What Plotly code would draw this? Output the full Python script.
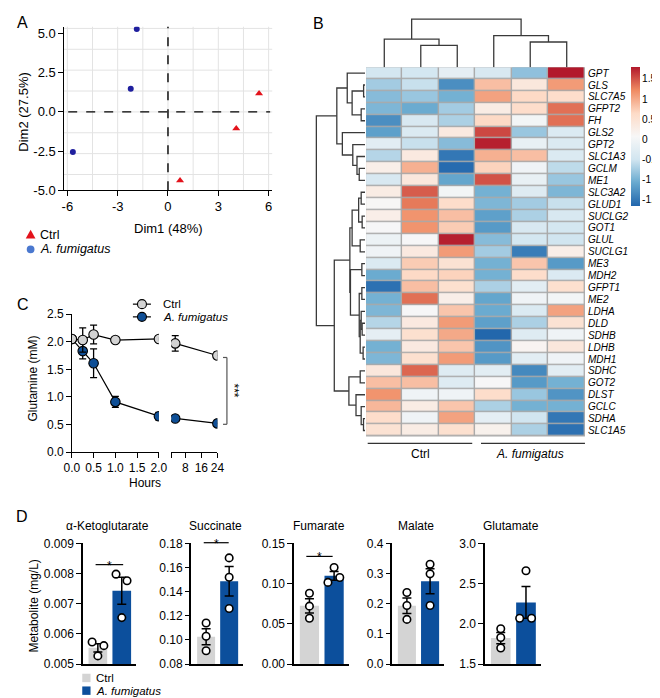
import numpy as np
import plotly.graph_objects as go

W, H = 660, 698
FONT = "Liberation Sans, Arial, Helvetica, sans-serif"

# ---------------- Panel A: PCA ----------------
pca_ctrl_dim1 = [5.43, 4.07, 0.72]
pca_ctrl_dim2 = [1.17, -1.06, -4.39]
pca_af_dim1 = [-1.86, -2.22, -5.67]
pca_af_dim2 = [5.30, 1.48, -2.56]
pca_xticks = [-6, -3, 0, 3, 6]
pca_yticks = [-5.0, -2.5, 0.0, 2.5, 5.0]

# ---------------- Panel B: heatmap ----------------
genes = ["GPT", "GLS", "SLC7A5", "GFPT2", "FH", "GLS2", "GPT2", "SLC1A3", "GCLM", "ME1",
         "SLC3A2", "GLUD1", "SUCLG2", "GOT1", "GLUL", "SUCLG1", "ME3", "MDH2", "GFPT1", "ME2",
         "LDHA", "DLD", "SDHB", "LDHB", "MDH1", "SDHC", "GOT2", "DLST", "GCLC", "SDHA", "SLC1A5"]
ctrl_1 = [-0.45, -0.75, -0.9, -0.95, -1.3, -1.15, -0.25, -0.65, 0.25, -0.4,
          0.3, 0.1, 0.25, 0.05, -0.1, -0.05, -0.35, -1.05, -1.55, -1.0,
          -0.95, -0.65, -0.2, -1.0, -0.95, 0.4, 0.85, 1.15, 0.9, 0.6, 0.5]
ctrl_2 = [-0.45, -0.55, -0.8, -1.05, -0.4, -0.35, -0.55, 0.35, 0.95, 0.4,
          1.45, 1.3, 1.15, 1.15, 0.05, 0.35, 0.75, 0.65, 0.85, 1.35,
          0.05, 0.35, 0.55, 0.35, 0.55, 1.4, 0.85, -0.05, 0.3, -0.05, 0.3]
ctrl_3 = [-0.2, -1.3, -1.0, -0.75, -0.7, 0.35, -0.9, -1.5, -1.6, -1.1,
          0.0, 0.6, 0.85, 0.75, 1.75, 1.1, 0.5, 0.7, 0.55, 0.25,
          0.8, 1.1, 1.0, 0.8, 1.1, -0.3, -0.3, -0.05, 0.8, 1.05, 0.55]
af_1 = [-0.4, 0.85, 1.05, 0.3, 0.65, 1.55, 1.75, 0.95, 0.7, 1.5,
        -1.0, -0.95, -1.15, -1.2, -0.9, -0.75, -1.0, -1.0, -0.7, -1.1,
        -1.05, -1.15, -1.64, -1.25, -1.2, -0.25, 0.05, 0.6, -0.7, -0.2, 0.2]
af_2 = [-0.85, 0.4, 0.65, 0.6, 0.0, -0.8, -0.15, 0.85, -0.05, -0.15,
        -0.3, -0.75, -0.7, -0.4, -0.45, -1.45, 0.8, 0.6, -0.25, -0.05,
        -0.35, -0.7, -0.3, 0.15, -0.25, -1.35, -1.2, -0.8, -1.0, -0.5, -0.7]
af_3 = [1.79, 1.1, 0.6, 1.35, 1.35, -0.35, -0.35, -0.35, -0.6, -0.8,
        -0.95, -0.55, -0.4, -0.45, -0.5, 0.25, -1.2, -0.35, 0.55, 0.0,
        1.05, 0.5, -0.05, 0.4, -0.05, -0.25, -1.0, -1.25, -1.0, -1.5, -1.55]
group_labels = ["Ctrl", "A. fumigatus"]
# hierarchical clustering trees: (left, right, merge height); ints are leaf indices
col_tree = ((0, (1, 2, 22.3), 28.7), (3, (4, 5, 25.7), 32.3), 49.0)
row_cluster_1 = ((0, ((1, 2, 1.5), (3, 4, 4.0), 13.3), 18.3),
                 (5, (6, (7, (8, 9, 6.0), 8.3), 12.6), 23.3), 29.0)
row_cluster_2 = (((((10, 11, 4.0), (12, 13, 3.0), 6.6), (14, 15, 5.0), 13.3),
                  ((16, 17, 3.3), ((18, 19, 3.3), ((20, (21, 22, 3.0), 4.0), (23, 24, 2.0), 5.0), 6.0), 15.0),
                  15.6),
                 ((25, 26, 5.0), (27, (28, (29, 30, 1.6), 4.0), 9.3), 16.6), 31.6)
row_tree = (row_cluster_1, row_cluster_2, 50.0)
cbar_ticks = [-1.5, -1, -0.5, 0, 0.5, 1, 1.5]
ZMIN, ZMAX = -1.645, 1.79

# ---------------- Panel C: glutamine ----------------
hours_early = [0, 0.25, 0.5, 1, 2]
hours_late = [3, 24]
gln_ctrl_early = [2.05, 2.03, 2.13, 2.03, 2.05]
gln_ctrl_early_sem = [0.0, 0.22, 0.17, 0.02, 0.02]
gln_ctrl_late = [1.97, 1.75]
gln_ctrl_late_sem = [0.14, 0.07]
gln_af_early = [2.05, 1.83, 1.61, 0.91, 0.65]
gln_af_early_sem = [0.0, 0.14, 0.26, 0.10, 0.07]
gln_af_late = [0.61, 0.52]
gln_af_late_sem = [0.03, 0.06]

# ---------------- Panel D: metabolites ----------------
metabolites = ["α-Ketoglutarate", "Succinate", "Fumarate", "Malate", "Glutamate"]
akg_ctrl = [0.00573, 0.00561, 0.00527]
akg_af = [0.00798, 0.00776, 0.00654]
succ_ctrl = [0.114, 0.103, 0.091]
succ_af = [0.168, 0.152, 0.126]
fum_ctrl = [0.088, 0.072, 0.057]
fum_af = [0.1015, 0.120, 0.1076]
mal_ctrl = [0.237, 0.194, 0.148]
mal_af = [0.331, 0.299, 0.194]
glu_ctrl = [1.939, 1.83, 1.70]
glu_af = [2.66, 2.07, 2.07]
d_yticks = [[0.005, 0.006, 0.007, 0.008, 0.009],
            [0.08, 0.10, 0.12, 0.14, 0.16, 0.18],
            [0.00, 0.05, 0.10, 0.15],
            [0.0, 0.1, 0.2, 0.3, 0.4],
            [1.5, 2.0, 2.5, 3.0]]
d_ticktext = [["0.005", "0.006", "0.007", "0.008", "0.009"],
              ["0.08", "0.10", "0.12", "0.14", "0.16", "0.18"],
              ["0.00", "0.05", "0.10", "0.15"],
              ["0.0", "0.1", "0.2", "0.3", "0.4"],
              ["1.5", "2.0", "2.5", "3.0"]]
d_ranges = [[0.005, 0.009], [0.08, 0.18], [0.0, 0.15], [0.0, 0.4], [1.5, 3.0]]

# ---------------- styling / layout constants ----------------
BLUE_BAR = "#0c4f9c"
GRAY_BAR = "#d4d4d4"
C_GRAY = "#d3d3d3"
C_BLUE = "#0f4f96"
HEAT_COLORS = ["#2166ac", "#67a9cf", "#d1e5f0", "#f7f7f7", "#fddbc7", "#ef8a62", "#b2182b"]
# horizontal jitter of points (x units) per metabolite, ctrl / af
jit_ctrl = [[-0.24, 0.25, 0.0], [0, 0, 0], [0, 0, 0], [0, 0, 0], [0, 0, 0]]
jit_af = [[-0.24, 0.22, 0.0], [0, 0, 0], [-0.25, 0.0, 0.23], [0, 0, 0], [0.0, -0.25, 0.22]]
d_xdomains = [(68.3, 123.3), (180, 233), (285, 341.7), (386, 439.3), (481, 539)]
CB_TOP, CB_BOT = 53.3, 195.0   # colorbar extent in px


def dx(a, b):
    return [a / W, b / W]


def dy(top, bottom):
    return [1 - bottom / H, 1 - top / H]


def ann(text, x, y, size=12, xa="center", ya="middle", angle=0, italic=False, pad=1):
    if italic:
        text = "<i>" + text + "</i>"
    return dict(text=text, x=x / W, y=1 - y / H, xref="paper", yref="paper",
                xanchor=xa, yanchor=ya, showarrow=False, textangle=angle, borderpad=pad,
                font=dict(size=size, color="black", family=FONT))


def pline(x0, y0, x1, y1, width=1.2, color="black", dash=None):
    ln = dict(color=color, width=width)
    if dash:
        ln["dash"] = dash
    return dict(type="line", xref="paper", yref="paper", x0=x0 / W, y0=1 - y0 / H,
                x1=x1 / W, y1=1 - y1 / H, line=ln)


def dendro(node):
    if isinstance(node, int):
        return float(node), 0.0, []
    l, r, h = node
    pl, hl, sl = dendro(l)
    pr, hr, sr = dendro(r)
    seg = [(pl, hl), (pl, h), (pr, h), (pr, hr)]
    return (pl + pr) / 2, h, sl + sr + [seg]


def seg_xy(segs):
    pos, hh = [], []
    for s in segs:
        for p, h in s:
            pos.append(p)
            hh.append(h)
        pos.append(None)
        hh.append(None)
    return pos, hh


fig = go.Figure()
shapes, annotations = [], []

# ===== Panel A =====
fig.add_trace(go.Scatter(x=pca_af_dim1, y=pca_af_dim2, mode="markers", xaxis="x", yaxis="y",
                         marker=dict(color="#1f1f9e", size=6), showlegend=False))
fig.add_trace(go.Scatter(x=pca_ctrl_dim1, y=pca_ctrl_dim2, mode="markers", xaxis="x", yaxis="y",
                         marker=dict(color="#e3121b", size=7, symbol="triangle-up"), showlegend=False))
for gx in np.arange(-6, 6.01, 1.5):
    shapes.append(dict(type="line", xref="x", yref="y domain", x0=gx, x1=gx, y0=0, y1=1,
                       line=dict(color="#e3e3e3", width=1), layer="below"))
for gy in np.arange(-4, 5.4, 4 / 3):
    shapes.append(dict(type="line", xref="x domain", yref="y", x0=0, x1=1, y0=gy, y1=gy,
                       line=dict(color="#e3e3e3", width=1), layer="below"))
shapes.append(dict(type="line", xref="x", yref="y domain", x0=0, x1=0, y0=0, y1=1,
                   line=dict(color="black", width=1.4, dash="dash")))
shapes.append(dict(type="line", xref="x domain", yref="y", x0=0.02, x1=0.99, y0=0, y1=0,
                   line=dict(color="black", width=1.4, dash="dash")))

# ===== Panel B =====
z = np.column_stack([ctrl_1, ctrl_2, ctrl_3, af_1, af_2, af_3])
cs = [[i / 6, c] for i, c in enumerate(HEAT_COLORS)]
fig.add_trace(go.Heatmap(
    z=z, x=list(range(6)), y=list(range(len(genes))), xaxis="x2", yaxis="y2",
    colorscale=cs, zmin=ZMIN, zmax=ZMAX, xgap=1.4, ygap=1.4,
    colorbar=dict(x=631.5 / W, xanchor="left", y=1 - CB_TOP / H, yanchor="top",
                  len=(CB_BOT - CB_TOP) / H, lenmode="fraction", thickness=8.5, thicknessmode="pixels",
                  outlinewidth=0, showticklabels=False, ticks="", xpad=0, ypad=0),
))
# colorbar labels (placed against the colour scale)
for t in cbar_ticks:
    ypx = CB_TOP + (ZMAX - t) / (ZMAX - ZMIN) * (CB_BOT - CB_TOP)
    annotations.append(ann("%g" % t, 641.3, ypx, size=10.2, xa="left", pad=0))
shapes.append(dict(type="rect", xref="x2 domain", yref="y2 domain", x0=0, x1=1, y0=0, y1=1,
                   fillcolor="#a9a9a9", line=dict(width=0), layer="below"))
_, _, csegs = dendro(col_tree)
cpos, ch = seg_xy(csegs)
fig.add_trace(go.Scatter(x=cpos, y=ch, mode="lines", xaxis="x3", yaxis="y3",
                         line=dict(color="#3a3a3a", width=1.3), showlegend=False, hoverinfo="skip"))
_, _, rsegs = dendro(row_tree)
rpos, rh = seg_xy(rsegs)
fig.add_trace(go.Scatter(x=rh, y=rpos, mode="lines", xaxis="x4", yaxis="y4",
                         line=dict(color="#3a3a3a", width=1.3), showlegend=False, hoverinfo="skip"))
shapes.append(pline(361, 437.7, 468.3, 437.7, width=1.2, color="#333"))
shapes.append(pline(477.3, 437.7, 584, 437.7, width=1.2, color="#333"))
annotations.append(ann(group_labels[0], 415, 448.5, size=12))
annotations.append(ann(group_labels[1], 528, 448.5, size=12, italic=True))

# ===== Panel C =====
def cser(x, y, e, xa, color, name):
    return go.Scatter(x=x, y=y, mode="lines+markers", xaxis=xa, yaxis="y5", name=name,
                      line=dict(color="black", width=1.2),
                      marker=dict(size=9.5, color=color, line=dict(color="black", width=1.1)),
                      error_y=dict(type="data", array=e, color="black", thickness=1.3, width=3.5),
                      showlegend=False)

fig.add_trace(cser(hours_early, gln_af_early, gln_af_early_sem, "x5", C_BLUE, "A. fumigatus"))
fig.add_trace(cser(hours_late, gln_af_late, gln_af_late_sem, "x6", C_BLUE, "A. fumigatus"))
fig.add_trace(cser(hours_early, gln_ctrl_early, gln_ctrl_early_sem, "x5", C_GRAY, "Ctrl"))
fig.add_trace(cser(hours_late, gln_ctrl_late, gln_ctrl_late_sem, "x6", C_GRAY, "Ctrl"))
# significance bracket
shapes.append(pline(216.5, 350, 216.5, 418.3, width=1.2, color="#555"))
shapes.append(pline(212.5, 350, 216.5, 350, width=1.2, color="#555"))
shapes.append(pline(212.5, 418.3, 216.5, 418.3, width=1.2, color="#555"))
annotations.append(ann("***", 224, 384, size=12, angle=90))
# legend C
for yy, col, txt, it in [(295.5, C_GRAY, "Ctrl", False), (308.5, C_BLUE, "A. fumigatus", True)]:
    shapes.append(pline(120, yy, 138.5, yy, width=1.2))
    shapes.append(dict(type="circle", xref="paper", yref="paper", x0=(129.3 - 4.6) / W, x1=(129.3 + 4.6) / W,
                       y0=1 - (yy + 4.6) / H, y1=1 - (yy - 4.6) / H, fillcolor=col,
                       line=dict(color="black", width=1.1)))
    annotations.append(ann(txt, 149, yy, size=11.5, xa="left", italic=it))
annotations.append(ann("Hours", 132, 478.5, size=12))
annotations.append(ann("Glutamine (mM)", 17, 372, size=12, angle=-90))

# ===== Panel D =====
d_ctrl = [akg_ctrl, succ_ctrl, fum_ctrl, mal_ctrl, glu_ctrl]
d_af = [akg_af, succ_af, fum_af, mal_af, glu_af]
for i in range(5):
    xa, ya = "x%d" % (7 + i), "y%d" % (7 + i)
    means = [np.mean(d_ctrl[i]), np.mean(d_af[i])]
    sems = [np.std(d_ctrl[i], ddof=1) / np.sqrt(3), np.std(d_af[i], ddof=1) / np.sqrt(3)]
    base = d_ranges[i][0]
    fig.add_trace(go.Bar(x=[0, 1], y=[m - base for m in means], base=base, xaxis=xa, yaxis=ya,
                         width=0.78, marker=dict(color=[GRAY_BAR, BLUE_BAR], line=dict(width=0)),
                         error_y=dict(type="data", array=sems, color="black", thickness=1.5, width=4.5),
                         showlegend=False))
    xs = [0 + j for j in jit_ctrl[i]] + [1 + j for j in jit_af[i]]
    ys = list(d_ctrl[i]) + list(d_af[i])
    fig.add_trace(go.Scatter(x=xs, y=ys, mode="markers", xaxis=xa, yaxis=ya, cliponaxis=False,
                             marker=dict(size=7.5, color="white", line=dict(color="black", width=1.6)),
                             showlegend=False))
    x0, x1 = d_xdomains[i]
    annotations.append(ann(metabolites[i], (x0 + x1) / 2 - 2, 522.7, size=12))

# significance marks D
for (xa0, xa1, yl) in [(81.7, 110, 561.7), (192.7, 218.3, 539.3), (298, 325, 553.3)]:
    shapes.append(pline(xa0, yl, xa1, yl, width=1.2))
    annotations.append(ann("*", (xa0 + xa1) / 2, yl + 1, size=12))
annotations.append(ann("Metabolite (mg/L)", 18, 604, size=12, angle=-90))
# legend D
for yy, col, txt, it in [(677.5, GRAY_BAR, "Ctrl", False), (690.5, BLUE_BAR, "A. fumigatus", True)]:
    shapes.append(dict(type="rect", xref="paper", yref="paper", x0=68 / W, x1=76.5 / W,
                       y0=1 - (yy + 4.3) / H, y1=1 - (yy - 4.3) / H, fillcolor=col, line=dict(width=0)))
    annotations.append(ann(txt, 80.5, yy, size=11.5, xa="left", italic=it))

# ===== Panel A text =====
annotations.append(ann("Dim1 (48%)", 156.5, 218.5, size=13))
annotations.append(ann("Dim2 (27.5%)", 8, 99, size=13, angle=-90))
# legend A
tri = "M {},{} L {},{} L {},{} Z".format(10 / W, 1 - 228.5 / H, 20 / W, 1 - 228.5 / H, 15 / W, 1 - 219.5 / H)
shapes.append(dict(type="path", xref="paper", yref="paper", path=tri, fillcolor="#e3121b", line=dict(width=0)))
shapes.append(dict(type="circle", xref="paper", yref="paper", x0=11 / W, x1=19 / W,
                   y0=1 - 243.5 / H, y1=1 - 235.5 / H, fillcolor="#4a78cf", line=dict(width=0)))
annotations.append(ann("Ctrl", 23, 224.5, size=12.5, xa="left"))
annotations.append(ann("A. fumigatus", 23, 239.5, size=12.5, xa="left", italic=True))

# panel letters
for t, x, y in [("A", 7, 8), ("B", 310, 9), ("C", 7, 296), ("D", 6, 513)]:
    annotations.append(ann(t, x, y, size=16))

# ===== axes =====
AX = dict(showline=True, linecolor="black", linewidth=1.4, ticks="outside", ticklen=4.5,
          tickwidth=1.4, tickcolor="black", zeroline=False, showgrid=False,
          tickfont=dict(size=12, family=FONT, color="black"))
layout = dict(
    width=W, height=H, margin=dict(l=0, r=0, t=0, b=0),
    paper_bgcolor="white", plot_bgcolor="white", showlegend=False,
    font=dict(family=FONT, color="black"),
    shapes=shapes, annotations=annotations,
)
layout["xaxis"] = dict(AX, domain=dx(49.3, 263), range=[-6.197, 6.215], anchor="y",
                       tickvals=pca_xticks, ticktext=[str(v) for v in pca_xticks],
                       tickfont=dict(size=13, family=FONT, color="black"))
layout["yaxis"] = dict(AX, domain=dy(12, 179), range=[-5.0, 5.44], anchor="x",
                       tickvals=pca_yticks, ticktext=["%.1f" % v for v in pca_yticks],
                       tickfont=dict(size=13, family=FONT, color="black"))
layout["xaxis2"] = dict(domain=dx(359.3, 584), range=[-0.5, 5.5], anchor="y2", showticklabels=False,
                        showgrid=False, zeroline=False, showline=False, ticks="")
layout["yaxis2"] = dict(domain=dy(53.3, 430.7), range=[30.5, -0.5], anchor="x2", side="right",
                        tickvals=list(range(len(genes))), ticktext=genes, ticks="",
                        showgrid=False, zeroline=False, showline=False, ticklabelstandoff=2,
                        tickfont=dict(size=10, family=FONT, color="black", style="italic"))
layout["xaxis3"] = dict(domain=dx(359.3, 584), range=[-0.5, 5.5], anchor="y3", visible=False)
layout["yaxis3"] = dict(domain=dy(1, 53.3), range=[0, 52.3], anchor="x3", visible=False)
layout["xaxis4"] = dict(domain=dx(306, 358.3), range=[52.3, 0], anchor="y4", visible=False)
layout["yaxis4"] = dict(domain=dy(53.3, 430.7), range=[30.5, -0.5], anchor="x4", visible=False)
layout["xaxis5"] = dict(AX, domain=dx(57.3, 146.7), range=[0, 2], anchor="y5",
                        tickvals=[0, 0.5, 1, 1.5, 2],
                        ticktext=["0.0", "0.5", "1.0", "1.5", "2.0"])
layout["xaxis6"] = dict(AX, domain=dx(159.3, 206.7), range=[1, 24], anchor="y5",
                        tickvals=[1, 8, 16, 24], ticktext=["", "8", "16", "24"])
layout["yaxis5"] = dict(AX, domain=dy(305.7, 446.7), range=[0, 2.5], anchor="x5",
                        tickvals=[0, 0.5, 1, 1.5, 2, 2.5], ticktext=["0.0", "0.5", "1.0", "1.5", "2.0", "2.5"])
for i in range(5):
    x0, x1 = d_xdomains[i]
    layout["xaxis%d" % (7 + i)] = dict(domain=dx(x0, x1), range=[-0.64, 1.6], anchor="y%d" % (7 + i),
                                       showline=True, linecolor="black", linewidth=1.5, ticks="",
                                       showticklabels=False, showgrid=False, zeroline=False)
    layout["yaxis%d" % (7 + i)] = dict(AX, domain=dy(540, 663.3), range=d_ranges[i], anchor="x%d" % (7 + i),
                                       tickvals=d_yticks[i], ticktext=d_ticktext[i], linewidth=1.5)

fig.update_layout(**layout)
fig.write_html("out.html")
